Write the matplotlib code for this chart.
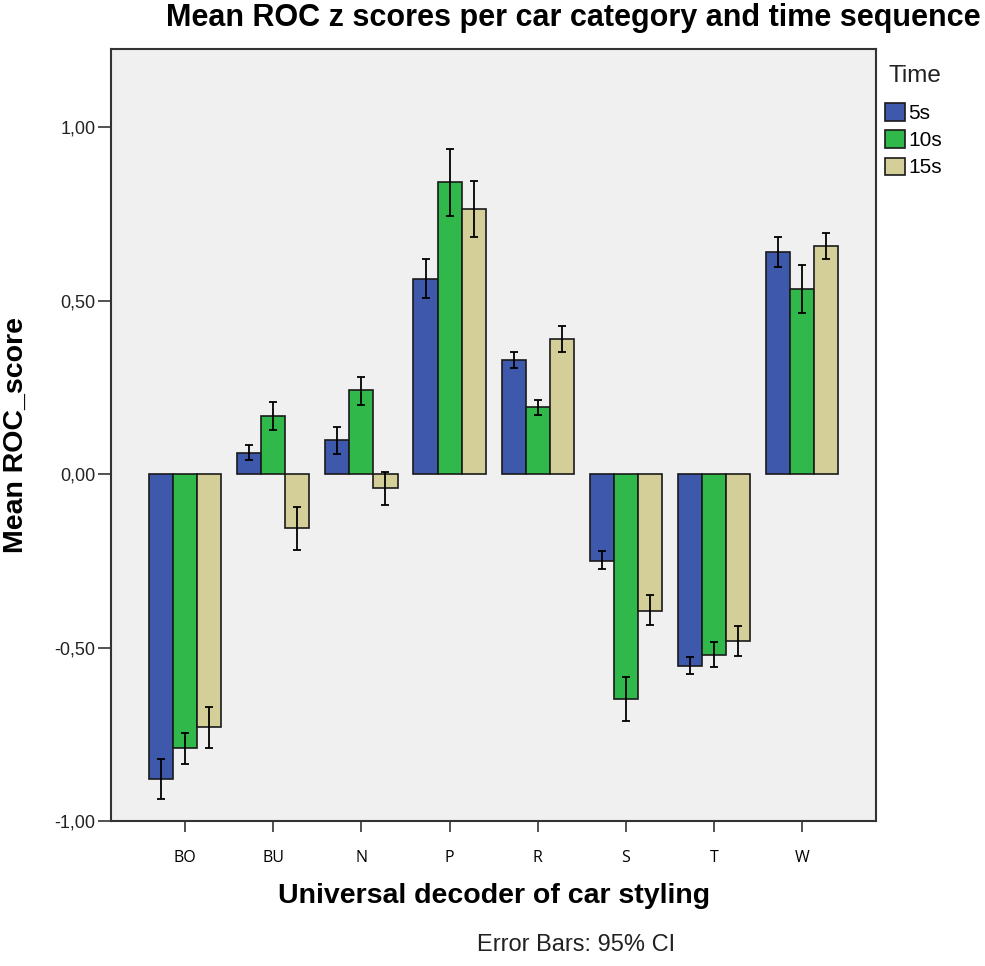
import numpy as np
import matplotlib
matplotlib.use('Agg')
import matplotlib.pyplot as plt
from matplotlib.patches import Patch

# data
categories = ['BO', 'BU', 'N', 'P', 'R', 'S', 'T', 'W']
times = ['5s', '10s', '15s']

mean_5s = [-0.879, 0.060, 0.100, 0.563, 0.328, -0.250, -0.552, 0.641]
mean_10s = [-0.790, 0.167, 0.244, 0.842, 0.193, -0.647, -0.520, 0.534]
mean_15s = [-0.730, -0.155, -0.040, 0.764, 0.391, -0.394, -0.480, 0.658]

lo_5s = [-0.937, 0.040, 0.057, 0.509, 0.305, -0.273, -0.575, 0.598]
hi_5s = [-0.822, 0.083, 0.135, 0.621, 0.353, -0.221, -0.526, 0.684]
lo_10s = [-0.836, 0.126, 0.200, 0.744, 0.172, -0.710, -0.557, 0.466]
hi_10s = [-0.747, 0.207, 0.280, 0.937, 0.213, -0.586, -0.483, 0.603]
lo_15s = [-0.790, -0.218, -0.089, 0.684, 0.353, -0.434, -0.523, 0.621]
hi_15s = [-0.670, -0.095, 0.005, 0.845, 0.428, -0.348, -0.437, 0.695]

means = [mean_5s, mean_10s, mean_15s]
lows = [lo_5s, lo_10s, lo_15s]
highs = [hi_5s, hi_10s, hi_15s]
colors = ['#3E58AC', '#31B84A', '#D4CE98']

plt.rcParams['font.family'] = ['Liberation Sans', 'DejaVu Sans']

fig = plt.figure(figsize=(9.85, 9.66), dpi=100)
ax = fig.add_axes([0.1127, 0.150, 0.777, 0.799])
ax.set_facecolor('#F0F0F0')

x = np.arange(len(categories))
w = 0.273
for i in range(3):
    pos = x + (i - 1) * w
    m = np.array(means[i])
    lo = np.array(lows[i])
    hi = np.array(highs[i])
    ax.bar(pos, m, width=w, color=colors[i], edgecolor='#1a1a1a', linewidth=1.2, zorder=2)
    ax.errorbar(pos, m, yerr=[m - lo, hi - m], fmt='none', ecolor='black',
                elinewidth=1.3, capsize=3, capthick=1.3, zorder=3)

ax.set_xlim(-0.84, 7.84)
ax.set_ylim(-1.0, 1.225)
ax.set_yticks([-1.0, -0.5, 0.0, 0.5, 1.0])
ax.set_yticklabels(['-1,00', '-0,50', '0,00', '0,50', '1,00'], fontsize=13, color='#222222')
ax.set_xticks(x)
ax.set_xticklabels(categories, fontsize=11.5, family=['Open Sans', 'DejaVu Sans'])
ax.tick_params(axis='y', length=9.5, width=1.2, color='#333333', pad=1.5)
ax.tick_params(axis='x', length=8, width=1.2, color='#333333', pad=13)
for s in ax.spines.values():
    s.set_color('#333333')
    s.set_linewidth(1.5)

ax.set_ylabel('Mean ROC_score', fontsize=20.5, fontweight='bold')
ax.yaxis.set_label_coords(-0.124, 0.5)
ax.yaxis.label.set_va('center')
ax.set_xlabel('Universal decoder of car styling', fontsize=20.5, fontweight='bold')
ax.xaxis.set_label_coords(0.5, -0.097)
ax.xaxis.label.set_va('center')

fig.text(0.582, 0.981, 'Mean ROC z scores per car category and time sequence',
         ha='center', va='center', fontsize=22, fontweight='bold')
fig.text(0.585, 0.0217, 'Error Bars: 95% CI', ha='center', va='center', fontsize=17,
         color='#222222')

# legend: title placed separately to get the wider gap
fig.text(0.902, 0.921, 'Time', ha='left', va='center', fontsize=17.5, color='#222222')
handles = [Patch(facecolor=c, edgecolor='#1a1a1a', linewidth=1.2) for c in colors]
leg = fig.legend(handles, times, loc='upper left',
                 bbox_to_anchor=(0.898, 0.893), frameon=False, fontsize=15,
                 handlelength=1.0, handleheight=0.9,
                 handletextpad=0.15, labelspacing=0.35, borderaxespad=0,
                 borderpad=0)

fig.savefig('out.png', dpi=100)
